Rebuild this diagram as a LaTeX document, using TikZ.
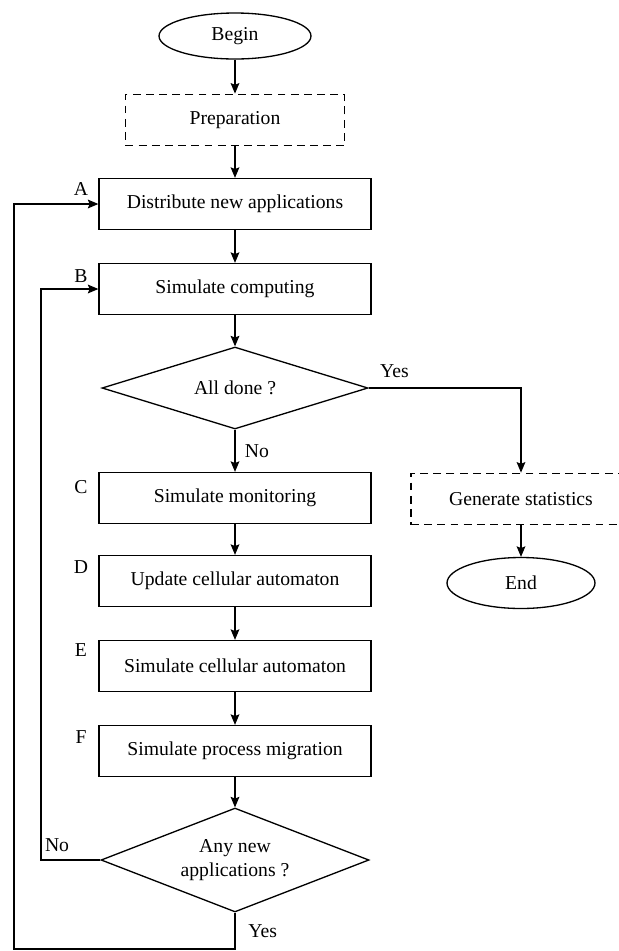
\documentclass[tikz,border=0pt]{standalone}
\usepackage{fontspec}
\setmainfont{Liberation Serif}
\usetikzlibrary{arrows.meta,shapes.geometric}

\tikzset{
	procbox/.style={draw, line width=0.75pt, minimum width=5.44cm, minimum height=1.02cm, inner sep=0pt},
	prepbox/.style={draw, line width=0.75pt, dash pattern=on 4.5pt off 3pt, minimum height=1.03cm, inner sep=0pt},
	termnode/.style={draw, ellipse, line width=0.75pt, inner sep=0pt},
	decide/.style={draw, diamond, aspect=2.6, line width=0.75pt, inner sep=0pt, align=center},
	flow/.style={line width=0.6pt, -{Stealth[length=6pt,width=5pt,inset=1pt]}},
	steplabel/.style={inner sep=0pt}
}

\begin{document}
\begin{tikzpicture}[x=0.02cm, y=-0.02cm, font=\fontsize{11.2}{13.6}\selectfont]
			%%%%% FRAME %%%%%
			\useasboundingbox (0, 0) rectangle (619, 951);
			\clip (0, 0) rectangle (619, 951);
			
			%%%%% MAIN COLUMN %%%%%
			\node[termnode, minimum width=3.04cm, minimum height=0.92cm] (begin) at (235, 36) {Begin};
			\node[prepbox, minimum width=4.38cm] (prep) at (235, 120) {Preparation};
			\node[procbox] (distr) at (235, 204) {Distribute new applications};
			\node[procbox] (comp) at (235, 289) {Simulate computing};
			\node[decide, minimum width=5.32cm, minimum height=1.64cm] (alldone) at (235, 388) {All done ?};
			\node[procbox] (monit) at (235, 498) {Simulate monitoring};
			\node[procbox] (update) at (235, 581) {Update cellular automaton};
			\node[procbox] (simca) at (235, 666) {Simulate cellular automaton};
			\node[procbox] (migr) at (235, 751) {Simulate process migration};
			\node[decide, minimum width=5.36cm, minimum height=2.08cm] (anynew) at (235, 860) {Any new\\applications ?};
			
			%%%%% RIGHT BRANCH %%%%%
			\node[prepbox, minimum width=4.4cm] (gen) at (521, 499) {Generate statistics};
			\node[termnode, minimum width=2.96cm, minimum height=1.02cm] (end) at (521, 583) {End};
			
			%%%%% STEP LETTERS %%%%%
			\node[steplabel] (la) at (81, 189) {A};
			\node[steplabel] (lb) at (81, 276) {B};
			\node[steplabel] (lc) at (81, 487) {C};
			\node[steplabel] (ld) at (81, 567) {D};
			\node[steplabel] (le) at (81, 650) {E};
			\node[steplabel] (lf) at (81, 737) {F};
			
			%%%%% CONNECTORS %%%%%
			\draw[flow] (begin) -- (prep);
			\draw[flow] (prep) -- (distr);
			\draw[flow] (distr) -- (comp);
			\draw[flow] (comp) -- (alldone);
			\draw[flow] (alldone) -- node[right, xshift=2pt] (ano) {No} (monit);
			\draw[flow] (alldone.east) -- node[above, pos=0.17, yshift=2pt] (ayes) {Yes} (alldone.east -| gen.north) -- (gen.north);
			\draw[flow] (gen) -- (end);
			\draw[flow] (monit) -- (update);
			\draw[flow] (update) -- (simca);
			\draw[flow] (simca) -- (migr);
			\draw[flow] (migr) -- (anynew);
			
			% loop back to B
			\coordinate (nocorner) at (41, 860);
			\draw[flow] (anynew.west) -- node[above, pos=0.73, yshift=1pt] (nno) {No} (nocorner) |- (comp.west);
			
			% loop back to A
			\coordinate (yescorner) at (14, 949);
			\draw[flow] (anynew.south) -- node[right, xshift=4pt] (nyes) {Yes} (anynew.south |- yescorner) -- (yescorner) |- (distr.west);
			
			%%%%% END %%%%%
		\end{tikzpicture}
\end{document}
